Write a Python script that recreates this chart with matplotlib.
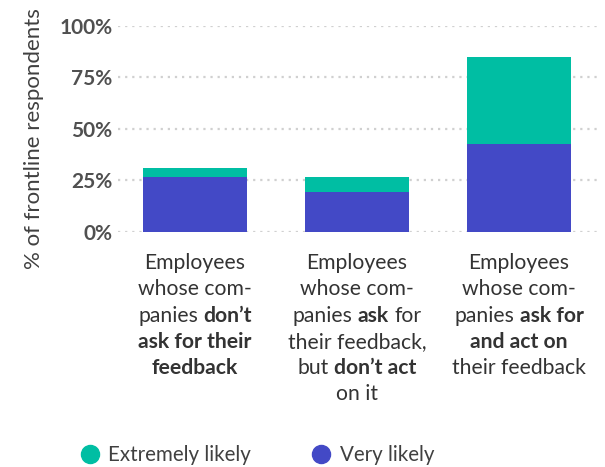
import matplotlib
matplotlib.use("Agg")
import matplotlib.pyplot as plt
from matplotlib.lines import Line2D
import numpy as np

# data
groups = ["don't ask", "ask, don't act", "ask and act"]
very_likely = [26.5, 19.5, 42.5]
extremely_likely = [4.5, 7.0, 42.2]
yticks = [0, 25, 50, 75, 100]

# category labels, each line is a list of (text, bold) pieces
labels = [
    [[("Employees", 0)], [("whose com-", 0)], [("panies", 0), ("don\u2019t", 1)],
     [("ask for their", 1)], [("feedback", 1)]],
    [[("Employees", 0)], [("whose com-", 0)], [("panies", 0), ("ask", 1), ("for", 0)],
     [("their feedback,", 0)], [("but", 0), ("don\u2019t act", 1)], [("on it", 0)]],
    [[("Employees", 0)], [("whose com-", 0)], [("panies", 0), ("ask for", 1)],
     [("and act on", 1)], [("their feedback", 0)]],
]

BLUE = "#4349c6"
TEAL = "#00bea3"
FONT = "Lato"
LBL = 15.2

W, H = 605, 467
fig = plt.figure(figsize=(W / 100, H / 100), dpi=100)
ax = fig.add_axes([118 / W, 1 - 232 / H, (600 - 118) / W, (232 - 25.5) / H])

x = np.arange(len(groups))
ax.bar(x, very_likely, width=0.642, color=BLUE, zorder=3)
ax.bar(x, extremely_likely, bottom=very_likely, width=0.642, color=TEAL, zorder=3)

ax.set_xlim(-0.475, 2.5)
ax.set_ylim(0, 100)
ax.set_yticks(yticks)
ax.set_yticklabels([str(t) + "%" for t in yticks], fontsize=15, fontweight="bold",
                   color="#505050", family=FONT)
ax.tick_params(axis="y", length=0, pad=4)
ax.set_xticks([])
for s in ax.spines.values():
    s.set_visible(False)
ax.yaxis.grid(True, linestyle=(0, (1, 2.2)), color="#d0d0d0", linewidth=1.6, zorder=0)

fig.text(34 / W, 1 - 139 / H, "% of frontline respondents", rotation=90, ha="center",
         va="center", fontsize=16, color="#404040", family=FONT)

# mixed weight labels under the bars
fig.canvas.draw()
r = fig.canvas.get_renderer()

def width_of(s, bold):
    t = fig.text(0, 0, s, fontsize=LBL, family=FONT, fontweight="bold" if bold else "normal")
    w = t.get_window_extent(r).width
    t.remove()
    return w

space = width_of("x x", 0) - width_of("xx", 0)
line_h = 26.3
for i, lines in enumerate(labels):
    cx = ax.transData.transform((x[i], 0))[0]
    for j, pieces in enumerate(lines):
        ws = [width_of(p, b) for p, b in pieces]
        total = sum(ws) + space * (len(pieces) - 1)
        px = cx - total / 2
        py = H - (263 + j * line_h)
        for (p, b), w in zip(pieces, ws):
            fig.text(px / W, py / H, p, fontsize=LBL, family=FONT, color="#333333",
                     fontweight="bold" if b else "normal", ha="left", va="center")
            px += w + space

handles = [Line2D([], [], marker="o", linestyle="", markersize=13, color=TEAL),
           Line2D([], [], marker="o", linestyle="", markersize=13, color=BLUE)]
fig.legend(handles, ["Extremely likely", "Very likely"], loc="center left",
           bbox_to_anchor=(59 / W, 1 - 455 / H), ncol=2, frameon=False,
           prop={"family": FONT, "size": 14.8}, handletextpad=0.3, columnspacing=2.8,
           labelcolor="#404040", handlelength=1.2)

fig.savefig("out.png", dpi=100)
